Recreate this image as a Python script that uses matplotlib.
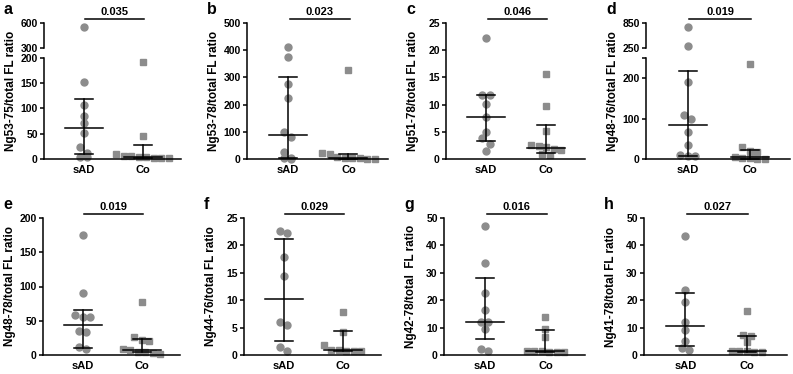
import numpy as np
import matplotlib
matplotlib.use("Agg")
import matplotlib.pyplot as plt
from matplotlib.transforms import blended_transform_factory

W, H = 793, 374

plt.rcParams['font.family'] = ['Liberation Sans', 'DejaVu Sans']
plt.rcParams['font.weight'] = 'bold'

groups = ["sAD", "Co"]
letters = ["a", "b", "c", "d", "e", "f", "g", "h"]
ylabels = ["Ng53-75/total FL ratio", "Ng53-78/total FL ratio",
           "Ng51-78/total FL ratio", "Ng48-76/total FL ratio",
           "Ng48-78/total FL ratio", "Ng44-76/total FL ratio",
           "Ng42-78/total  FL ratio", "Ng41-78/total FL ratio"]
pvalues = ["0.035", "0.023", "0.046", "0.019", "0.019", "0.029", "0.016", "0.027"]

# points per panel
sad_a = [551, 152, 107, 85, 71, 51, 23, 12, 3, 4]
co_a = [192, 46, 9, 6, 5, 4, 3, 2, 2, 1]
sad_b = [413, 376, 275, 226, 99, 80, 26, 4, 2, 1]
co_b = [326, 22, 20, 8, 5, 3, 2, 1, 1]
sad_c = [22.3, 11.8, 11.7, 10.1, 7.8, 5.0, 3.8, 2.8, 1.5]
co_c = [15.6, 9.8, 5.2, 2.5, 2.4, 2.2, 1.8, 1.6, 1.0, 0.7]
sad_d = [745, 307, 191, 108, 100, 66, 35, 10, 7, 7]
co_d = [234, 30, 19, 17, 5, 3, 2, 1, 1]
sad_e = [175, 91, 58, 55, 55, 35, 33, 11, 9]
co_e = [77, 27, 22, 20, 9, 7, 5, 4, 3, 2]
sad_f = [22.7, 22.3, 17.8, 14.4, 6.1, 5.5, 1.5, 0.8]
co_f = [7.9, 4.2, 1.8, 1.0, 0.9, 0.8, 0.8, 0.7]
sad_g = [47.2, 33.4, 22.6, 16.3, 12.0, 12.0, 9.4, 2.2, 1.6]
co_g = [13.8, 9.4, 6.7, 1.6, 1.4, 1.3, 1.2, 1.1, 1.0]
sad_h = [43.3, 23.8, 19.3, 12.1, 9.0, 5.1, 2.7, 1.8]
co_h = [15.9, 7.4, 7.0, 4.9, 1.6, 1.4, 1.3, 1.2, 1.1]

sad_vals = [sad_a, sad_b, sad_c, sad_d, sad_e, sad_f, sad_g, sad_h]
co_vals = [co_a, co_b, co_c, co_d, co_e, co_f, co_g, co_h]

# median and interquartile range as drawn
sad_med = [62, 89, 7.8, 83, 44, 10.2, 12, 10.5]
sad_q1 = [9, 3, 3.25, 8, 10.7, 2.5, 5.7, 3.3]
sad_q3 = [119, 300, 11.75, 219, 66, 21.1, 28, 22.8]
co_med = [3, 4, 2.1, 5, 7.5, 0.85, 1.5, 1.6]
co_q1 = [1, 1, 1.1, 1, 4, 0.7, 1.0, 1.1]
co_q3 = [27, 18, 6.3, 22, 24, 4.3, 9.1, 7.0]

# axis ranges and ticks
ytop = [200, 500, 25, 250, 200, 25, 50, 50]
yticks = [[0, 50, 100, 150, 200], [0, 100, 200, 300, 400, 500],
          [0, 5, 10, 15, 20, 25], [0, 100, 200], [0, 50, 100, 150, 200],
          [0, 5, 10, 15, 20, 25], [0, 10, 20, 30, 40, 50], [0, 10, 20, 30, 40, 50]]
upper = [(300, 600), None, None, (250, 850), None, None, None, None]

# pixel boxes: spine x, right end
xbox = [(44, 181), (247, 388), (446, 585), (646, 790),
        (43, 180), (244, 381), (444, 585), (644, 787)]
rows = [(23, 159), (218, 355)]

grey = "#8c8c8c"
LW = 1.1


def px_axes(fig, l, t, r, b):
    return fig.add_axes([l / W, 1 - b / H, (r - l) / W, (b - t) / H])


def style(ax, bottom=True):
    for s in ["top", "right"]:
        ax.spines[s].set_visible(False)
    ax.spines["left"].set_linewidth(LW)
    ax.spines["bottom"].set_linewidth(LW)
    ax.spines["bottom"].set_visible(bottom)
    ax.tick_params(axis="y", direction="out", length=3, width=LW, pad=1.5, labelsize=7.5)
    ax.set_xlim(-0.67, 1.65)
    if bottom:
        ax.set_xticks([0, 1])
        ax.set_xticklabels(groups, fontsize=8, fontweight="bold")
        ax.tick_params(axis="x", length=0, pad=4)
    else:
        ax.set_xticks([])


def swarm(ax, vals, d=7.5, thr=6.5):
    vals = np.asarray(vals, dtype=float)
    if len(vals) == 0:
        return vals
    ys = ax.transData.transform(np.column_stack([np.zeros(len(vals)), vals]))[:, 1]
    order = np.argsort(-ys)
    bands = []
    for i in order:
        if bands and abs(ys[bands[-1][0]] - ys[i]) < thr:
            bands[-1].append(i)
        else:
            bands.append([i])
    offs = np.zeros(len(vals))
    for g in bands:
        n = len(g)
        for k, i in enumerate(g):
            offs[i] = (k - (n - 1) / 2) * d
    ppu = ax.transData.transform([[1, 0]])[0, 0] - ax.transData.transform([[0, 0]])[0, 0]
    return offs / ppu


def draw_points(ax, xc, vals, marker):
    vals = np.asarray(vals, dtype=float)
    xo = swarm(ax, vals)
    ax.plot(xc + xo, vals, linestyle="none", marker=marker, ms=5,
            mfc=grey, mec=grey, clip_on=False, zorder=2)


fig = plt.figure(figsize=(W / 100, H / 100), dpi=100)

for i in range(8):
    l, r = xbox[i]
    t, b = rows[i // 4]
    if upper[i] is not None:
        ax_up = px_axes(fig, l, t, r, t + 25)
        ax = px_axes(fig, l, t + 35, r, b)
        style(ax_up, bottom=False)
        ax_up.set_ylim(*upper[i])
        ax_up.set_yticks(list(upper[i]))
    else:
        ax_up = None
        ax = px_axes(fig, l, t, r, b)
    style(ax)
    ax.set_ylim(0, ytop[i])
    ax.set_yticks(yticks[i])
    if ytop[i] not in yticks[i]:
        ax.set_yticks([ytop[i]], minor=True)
        ax.tick_params(axis="y", which="minor", length=3, width=LW)

    for xc, vals, mk in [(0, sad_vals[i], "o"), (1, co_vals[i], "s")]:
        vals = np.asarray(vals, dtype=float)
        draw_points(ax, xc, vals[vals <= ytop[i]], mk)
        if ax_up is not None:
            draw_points(ax_up, xc, vals[vals > ytop[i]], mk)

    ppu = ax.transData.transform([[1, 0]])[0, 0] - ax.transData.transform([[0, 0]])[0, 0]
    mw = 19 / ppu
    cw = 9 / ppu
    for xc, med, q1, q3 in [(0, sad_med[i], sad_q1[i], sad_q3[i]),
                            (1, co_med[i], co_q1[i], co_q3[i])]:
        ax.plot([xc, xc], [q1, q3], color="black", lw=LW, zorder=3, clip_on=False)
        ax.plot([xc - cw, xc + cw], [q1, q1], color="black", lw=LW, zorder=3, clip_on=False)
        ax.plot([xc - cw, xc + cw], [q3, q3], color="black", lw=LW, zorder=3, clip_on=False)
        ax.plot([xc - mw, xc + mw], [med, med], color="black", lw=LW, zorder=3, clip_on=False)

    # significance bar
    bar_y = 1 - (t - 4) / H
    tr = blended_transform_factory(ax.transData, fig.transFigure)
    ax.plot([0.03, 1.02], [bar_y, bar_y], color="black", lw=LW, transform=tr, clip_on=False)
    ax.text(0.525, bar_y + 2 / H, pvalues[i], transform=tr, ha="center", va="bottom",
            fontsize=8, fontweight="bold")

    # y label and panel letter
    fig.text((l - 33) / W, 1 - ((t + b) / 2) / H, ylabels[i], rotation=90,
             ha="center", va="center", fontsize=8.5, fontweight="bold")
    fig.text((l - 40) / W, 1 - (t - 9) / H, letters[i], ha="left", va="baseline",
             fontsize=11.5, fontweight="bold")

fig.savefig("out.png", dpi=100)
